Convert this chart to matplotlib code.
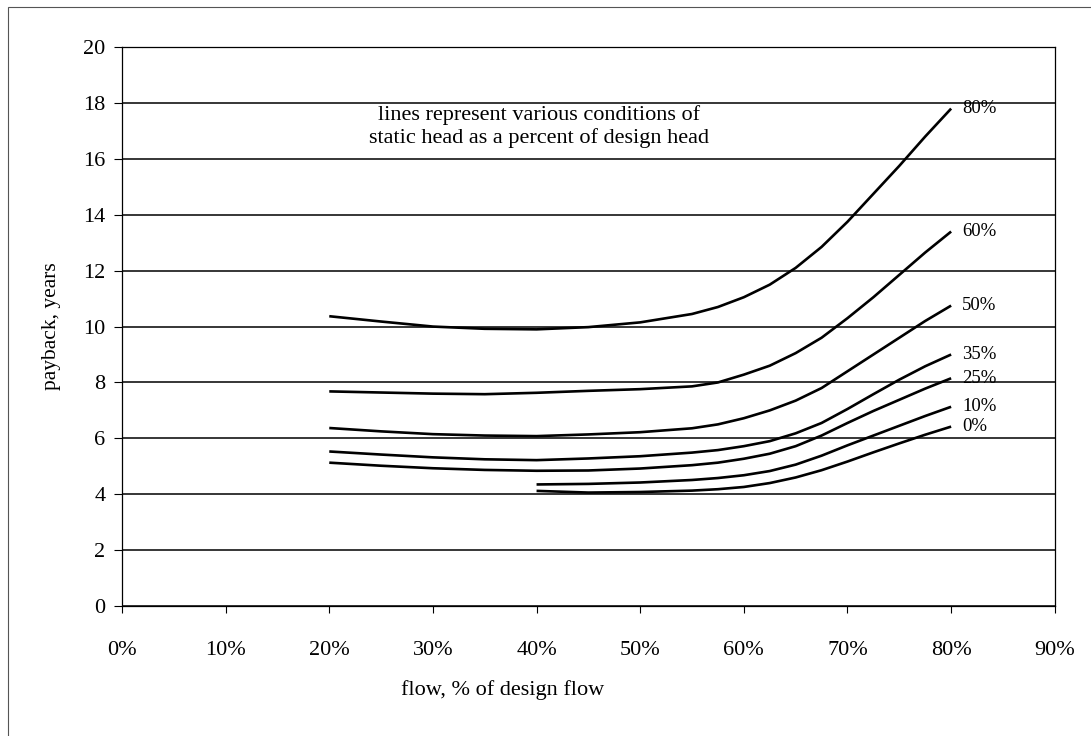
import matplotlib.pyplot as plt
from matplotlib.patches import Rectangle

plt.rcParams['font.family'] = ['Liberation Serif', 'DejaVu Serif']

# flow, % of design flow
flow_full = [20, 25, 30, 35, 40, 45, 50, 55, 57.5, 60, 62.5, 65, 67.5, 70, 72.5, 75, 77.5, 80]
flow_part = [40, 45, 50, 55, 57.5, 60, 62.5, 65, 67.5, 70, 72.5, 75, 77.5, 80]

# payback, years, for each static head (% of design head)
head_80 = [10.37, 10.18, 10.0, 9.92, 9.9, 9.98, 10.15, 10.45, 10.7, 11.05, 11.5, 12.1, 12.85, 13.75, 14.75, 15.75, 16.8, 17.8]
head_60 = [7.68, 7.64, 7.6, 7.58, 7.63, 7.7, 7.76, 7.86, 8.0, 8.28, 8.6, 9.05, 9.6, 10.3, 11.05, 11.85, 12.65, 13.4]
head_50 = [6.37, 6.25, 6.15, 6.1, 6.08, 6.14, 6.22, 6.36, 6.5, 6.72, 7.0, 7.35, 7.8, 8.4, 9.0, 9.6, 10.2, 10.75]
head_35 = [5.53, 5.42, 5.32, 5.25, 5.22, 5.28, 5.36, 5.49, 5.58, 5.72, 5.9, 6.18, 6.55, 7.05, 7.58, 8.1, 8.58, 9.0]
head_25 = [5.13, 5.02, 4.93, 4.87, 4.84, 4.85, 4.92, 5.04, 5.13, 5.27, 5.45, 5.72, 6.1, 6.55, 6.98, 7.38, 7.78, 8.15]
head_10 = [4.35, 4.37, 4.42, 4.51, 4.58, 4.68, 4.83, 5.06, 5.38, 5.75, 6.1, 6.45, 6.8, 7.13]
head_0 = [4.12, 4.06, 4.08, 4.13, 4.18, 4.26, 4.4, 4.6, 4.86, 5.17, 5.5, 5.82, 6.13, 6.42]

series = [
    (flow_full, head_80, "80%"),
    (flow_full, head_60, "60%"),
    (flow_full, head_50, "50%"),
    (flow_full, head_35, "35%"),
    (flow_full, head_25, "25%"),
    (flow_part, head_10, "10%"),
    (flow_part, head_0, "0%"),
]

x_ticks = [0, 10, 20, 30, 40, 50, 60, 70, 80, 90]
y_ticks = [0, 2, 4, 6, 8, 10, 12, 14, 16, 18, 20]

fig = plt.figure(figsize=(10.91, 7.36), dpi=100)
ax = fig.add_axes([0.1118, 0.1766, 0.855, 0.7594])

for y in y_ticks:
    ax.axhline(y, color="black", lw=1.1, zorder=1)

for xs, ys, lab in series:
    ax.plot(xs, ys, color="black", lw=1.9, solid_capstyle="butt", zorder=3)
    ax.annotate(lab, (xs[-1], ys[-1]), xytext=(8, 0), textcoords="offset points",
                ha="left", va="center", fontsize=13.5)

ax.set_xlim(0, 90)
ax.set_ylim(0, 20)
ax.set_xticks(x_ticks)
ax.set_xticklabels([f"{v}%" for v in x_ticks])
ax.set_yticks(y_ticks)
ax.tick_params(axis="x", direction="out", length=5, width=0.8, pad=20, labelsize=16)
ax.tick_params(axis="y", direction="out", length=6, width=0.8, pad=6, labelsize=16)
for s in ax.spines.values():
    s.set_linewidth(0.9)

ax.set_ylabel("payback, years", fontsize=15.5, labelpad=16)
fig.text(0.461, 0.062, "flow, % of design flow", ha="center", va="center", fontsize=16)

ax.text(40.2, 17.57, "lines represent various conditions of", ha="center", va="center", fontsize=16)
ax.text(40.2, 16.74, "static head as a percent of design head", ha="center", va="center", fontsize=16)

fig.patches.append(Rectangle((0.007, -0.01), 1.1, 1.0, transform=fig.transFigure,
                             fill=False, edgecolor="#555555", lw=0.8))

fig.savefig("out.png", dpi=100)
